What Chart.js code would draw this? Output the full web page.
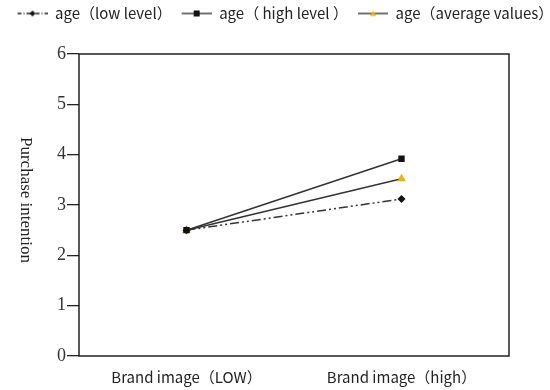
<!DOCTYPE html>
<html><head><meta charset="utf-8">
<script src="https://cdn.jsdelivr.net/npm/chart.js@4"></script>
<style>html,body{margin:0;padding:0;background:#fff}#wrap{width:550px;height:390px}</style>
</head><body><div id="wrap"><canvas id="c"></canvas></div>
<script>
const categories = ['Brand image（LOW）', 'Brand image（high）'];
const lowLevel = [2.5, 3.12];
const highLevel = [2.5, 3.92];
const averageValues = [2.5, 3.52];
const yTicks = [0, 1, 2, 3, 4, 5, 6];
const seriesNames = ['age（low level）', 'age（ high level ）', 'age（average values）'];
const yTitle = 'Purchase intention';

function legendImg(dash, style, color) {
  const c = document.createElement('canvas');
  c.width = 34; c.height = 10;
  const g = c.getContext('2d');
  g.strokeStyle = '#222'; g.lineWidth = 1.3;
  g.setLineDash(dash);
  g.beginPath(); g.moveTo(4, 5); g.lineTo(34, 5); g.stroke();
  g.setLineDash([]);
  g.fillStyle = color;
  const cx = 19;
  if (style === 'rectRot') { g.beginPath(); g.moveTo(cx, 2); g.lineTo(cx + 3, 5); g.lineTo(cx, 8); g.lineTo(cx - 3, 5); g.closePath(); g.fill(); }
  else if (style === 'rect') { g.fillRect(cx - 3, 2, 6, 6); }
  else { g.beginPath(); g.moveTo(cx, 2); g.lineTo(cx + 3, 7.5); g.lineTo(cx - 3, 7.5); g.closePath(); g.fill(); }
  return c;
}

const boxPlugin = {
  id: 'box',
  beforeInit(chart) {
    const fit = chart.legend.fit;
    chart.legend.fit = function () { this.maxWidth = 800; fit.call(this); this.height = 54; this.width = chart.width; };
  },
  afterLayout(chart) {
    chart.legend.left = 7.5;
    chart.legend.right = 800;
  },
  afterDraw(chart) {
    const a = chart.chartArea, ctx = chart.ctx;
    ctx.save();
    ctx.strokeStyle = '#222'; ctx.lineWidth = 1.5;
    ctx.strokeRect(a.left, a.top, a.right - a.left, a.bottom - a.top);
    ctx.translate(25, 200);
    ctx.rotate(Math.PI / 2);
    ctx.fillStyle = '#222';
    ctx.font = '17px "Liberation Serif"';
    ctx.textAlign = 'center'; ctx.textBaseline = 'middle';
    ctx.fillText(yTitle, 0, 0);
    ctx.restore();
  }
};

new Chart(document.getElementById('c'), {
  type: 'line',
  data: {
    labels: categories,
    datasets: [
      { label: seriesNames[0], data: lowLevel, borderColor: '#333', borderWidth: 1.5, borderDash: [9, 3, 2, 3, 2, 3],
        pointStyle: 'rectRot', pointRadius: 4, backgroundColor: '#111', pointBorderColor: '#111', pointBorderWidth: 0 },
      { label: seriesNames[1], data: highLevel, borderColor: '#333', borderWidth: 1.5,
        pointStyle: 'rect', pointRadius: 4.5, backgroundColor: '#111', pointBorderColor: '#111', pointBorderWidth: 0 },
      { label: seriesNames[2], data: averageValues, borderColor: '#333', borderWidth: 1.5,
        pointStyle: 'triangle', pointRadius: 4.5, backgroundColor: '#f0b400', pointBorderColor: '#d9a000', pointBorderWidth: 0.5 }
    ]
  },
  options: {
    responsive: true, maintainAspectRatio: false, animation: false,
    layout: { padding: 0 },
    plugins: {
      tooltip: { enabled: false },
      legend: {
        position: 'top', align: 'start',
        labels: {
          usePointStyle: true, pointStyleWidth: 34, boxHeight: 10, padding: 6,
          color: '#222', font: { family: '"Noto Sans CJK SC"', size: 15 },
          generateLabels(chart) {
            const styles = [[[4, 2, 1, 2], 'rectRot', '#111'], [[], 'rect', '#111'], [[], 'triangle', '#f0b400']];
            return chart.data.datasets.map((d, i) => ({
              text: d.label, datasetIndex: i, hidden: false, lineWidth: 0,
              pointStyle: legendImg(styles[i][0], styles[i][1], styles[i][2]), fontColor: '#222'
            }));
          }
        }
      }
    },
    scales: {
      x: {
        offset: true,
        grid: { display: false }, border: { display: false },
        ticks: { color: '#222', padding: 4, font: { family: '"Noto Sans CJK SC"', size: 15 } },
        afterFit(s) { s.height = 34; }
      },
      y: {
        min: 0, max: 6,
        afterBuildTicks(s) { s.ticks = yTicks.map(v => ({ value: v })); },
        grid: { drawOnChartArea: false, tickLength: 12, color: '#222', lineWidth: 1.3 },
        border: { display: false },
        ticks: { color: '#333', padding: 1, font: { family: '"Liberation Serif"', size: 18 } },
        afterFit(s) { s.width = 79; }
      },
      yr: {
        position: 'right', min: 0, max: 6,
        grid: { display: false }, border: { display: false },
        ticks: { display: false },
        afterFit(s) { s.width = 41; }
      }
    }
  },
  plugins: [boxPlugin]
});
</script></body></html>
